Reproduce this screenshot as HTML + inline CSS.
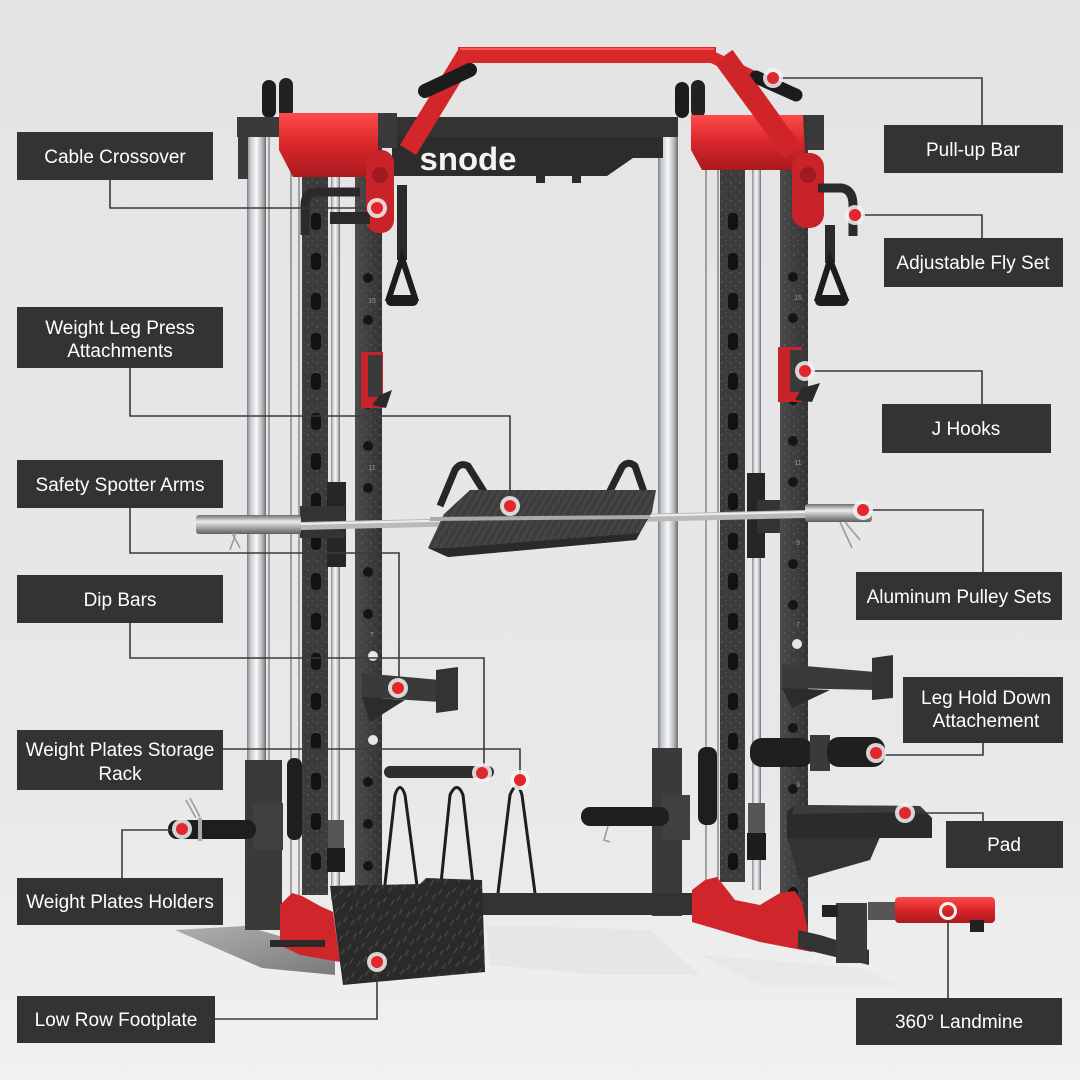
<!DOCTYPE html>
<html><head><meta charset="utf-8"><style>
html,body{margin:0;padding:0;background:#e7e7e7}
svg{display:block}
.lb{fill:#333333}
.lt{font-family:"Liberation Sans",Arial,sans-serif;font-size:19px;fill:#ffffff;text-anchor:middle}
.cn{fill:none;stroke:#3a3a3a;stroke-width:1.6}
.num{font-family:"Liberation Sans",sans-serif;font-size:7px;fill:#9a9a9a;text-anchor:middle}
</style></head><body>
<svg width="1080" height="1080" viewBox="0 0 1080 1080" xmlns="http://www.w3.org/2000/svg">
<defs>
<linearGradient id="bg" x1="0" y1="0" x2="0" y2="1">
<stop offset="0" stop-color="#e4e4e4"/><stop offset=".72" stop-color="#e8e8e8"/><stop offset="1" stop-color="#f1f1f1"/>
</linearGradient>
<linearGradient id="silver" x1="0" x2="1" y1="0" y2="0">
<stop offset="0" stop-color="#7e8185"/><stop offset=".18" stop-color="#c6c9cd"/><stop offset=".5" stop-color="#f5f7f9"/><stop offset=".8" stop-color="#b4b8bc"/><stop offset="1" stop-color="#6a6d70"/>
</linearGradient>
<linearGradient id="barg" x1="0" y1="0" x2="0" y2="1">
<stop offset="0" stop-color="#6e6e6e"/><stop offset=".35" stop-color="#ececec"/><stop offset="1" stop-color="#5e5e5e"/>
</linearGradient>
<linearGradient id="steel" x1="0" x2="1" y1="0" y2="0">
<stop offset="0" stop-color="#4a4a4a"/><stop offset="1" stop-color="#333"/>
</linearGradient>
<linearGradient id="redg" x1="0" y1="0" x2="0" y2="1">
<stop offset="0" stop-color="#ff4a4a"/><stop offset=".5" stop-color="#d8262a"/><stop offset="1" stop-color="#a81a1e"/>
</linearGradient>
<linearGradient id="footg" x1="0" y1="0" x2="1" y2="1">
<stop offset="0" stop-color="#b0b0b0"/><stop offset="1" stop-color="#7a7a7a"/>
</linearGradient>
<pattern id="speck" width="9" height="9" patternUnits="userSpaceOnUse">
<rect width="9" height="9" fill="none"/>
<circle cx="2" cy="3" r=".7" fill="#6a6a6a"/><circle cx="6" cy="7" r=".6" fill="#5c5c5c"/><circle cx="7" cy="1" r=".5" fill="#666"/>
</pattern>
<pattern id="diamond" width="14" height="14" patternUnits="userSpaceOnUse" patternTransform="rotate(-8)">
<rect width="14" height="14" fill="#2a2a2a"/>
<path d="M2 9 L6 4 M9 13 L13 8" stroke="#444" stroke-width="1.6"/>
</pattern>
<pattern id="carbon" width="6" height="6" patternUnits="userSpaceOnUse" patternTransform="rotate(30)">
<rect width="6" height="6" fill="#3c3c3c"/><rect width="3" height="6" fill="#454545"/>
</pattern>
</defs>
<rect width="1080" height="1080" fill="url(#bg)"/>

<!-- floor shadows -->
<polygon points="486,925 650,930 700,975 600,975 490,965" fill="#dfdfdf" opacity=".5"/>
<polygon points="700,955 860,968 900,985 760,985" fill="#e0e0e0" opacity=".45"/>
<polygon points="175,930 245,926 335,952 335,975 262,968" fill="url(#footg)"/>

<!-- back silver columns -->
<rect x="247" y="120" width="19" height="642" fill="url(#silver)"/>
<rect x="658" y="135" width="20" height="615" fill="url(#silver)"/>
<!-- cables -->
<g stroke="#5a5a5a" stroke-width="1">
<line x1="269" y1="118" x2="269" y2="930"/><line x1="291" y1="118" x2="291" y2="900"/><line x1="299" y1="150" x2="299" y2="900"/>
<line x1="706" y1="118" x2="706" y2="900"/><line x1="718" y1="118" x2="718" y2="900"/>
</g>
<!-- smith rods -->
<rect x="331" y="160" width="9" height="740" fill="url(#silver)"/>
<rect x="752" y="170" width="9" height="720" fill="url(#silver)"/>

<!-- top crossbar -->
<rect x="378" y="117" width="300" height="20" fill="#333"/>
<polygon points="392,137 663,137 663,158 633,158 607,176 392,176" fill="#2c2c2c"/>
<text x="468" y="170" font-family="Liberation Sans,sans-serif" font-weight="bold" font-size="32" fill="#f4f4f4" text-anchor="middle" textLength="97" lengthAdjust="spacingAndGlyphs">snode</text>
<rect x="536" y="175" width="9" height="8" fill="#2c2c2c"/><rect x="572" y="175" width="9" height="8" fill="#2c2c2c"/>

<!-- top pulleys -->
<rect x="262" y="80" width="14" height="38" rx="7" fill="#1c1c1c"/><rect x="279" y="78" width="14" height="40" rx="7" fill="#222"/>
<rect x="675" y="82" width="14" height="36" rx="7" fill="#1c1c1c"/><rect x="691" y="80" width="14" height="38" rx="7" fill="#222"/>

<!-- red pull-up bar -->
<g fill="none" stroke-linecap="butt">
<line x1="408" y1="150" x2="466" y2="55" stroke="#d2262a" stroke-width="19"/>
<line x1="458" y1="55" x2="716" y2="55" stroke="#d8282c" stroke-width="16"/>
<line x1="460" y1="49" x2="714" y2="49" stroke="#ff5555" stroke-width="2"/>
<line x1="724" y1="56" x2="793" y2="152" stroke="#cf2428" stroke-width="21"/>
<line x1="712" y1="57" x2="752" y2="76" stroke="#d8282c" stroke-width="12"/>
</g>
<line x1="425" y1="91" x2="470" y2="70" stroke="#1c1c1c" stroke-width="14" stroke-linecap="round"/>
<line x1="756" y1="77" x2="796" y2="95" stroke="#1c1c1c" stroke-width="13" stroke-linecap="round"/>

<!-- top brackets -->
<rect x="237" y="117" width="45" height="20" fill="#3a3a3a"/><rect x="238" y="117" width="10" height="62" fill="#3a3a3a"/>
<rect x="376" y="113" width="21" height="35" fill="#3a3a3a"/>
<rect x="800" y="115" width="24" height="35" fill="#3a3a3a"/>

<!-- slotted uprights -->
<rect x="302" y="160" width="26" height="735" fill="#3b3b3b"/>
<rect x="720" y="170" width="25" height="712" fill="#3b3b3b"/>
<rect x="302" y="160" width="26" height="735" fill="url(#speck)"/>
<rect x="720" y="170" width="25" height="712" fill="url(#speck)"/>
<g fill="#121212">
<rect x="311" y="213" width="10" height="17" rx="4"/><rect x="311" y="253" width="10" height="17" rx="4"/><rect x="311" y="293" width="10" height="17" rx="4"/><rect x="311" y="333" width="10" height="17" rx="4"/><rect x="311" y="373" width="10" height="17" rx="4"/><rect x="311" y="413" width="10" height="17" rx="4"/><rect x="311" y="453" width="10" height="17" rx="4"/><rect x="311" y="493" width="10" height="17" rx="4"/><rect x="311" y="533" width="10" height="17" rx="4"/><rect x="311" y="573" width="10" height="17" rx="4"/><rect x="311" y="613" width="10" height="17" rx="4"/><rect x="311" y="653" width="10" height="17" rx="4"/><rect x="311" y="693" width="10" height="17" rx="4"/><rect x="311" y="733" width="10" height="17" rx="4"/><rect x="311" y="773" width="10" height="17" rx="4"/><rect x="311" y="813" width="10" height="17" rx="4"/><rect x="311" y="853" width="10" height="17" rx="4"/>
<rect x="728" y="213" width="10" height="17" rx="4"/><rect x="728" y="253" width="10" height="17" rx="4"/><rect x="728" y="293" width="10" height="17" rx="4"/><rect x="728" y="333" width="10" height="17" rx="4"/><rect x="728" y="373" width="10" height="17" rx="4"/><rect x="728" y="413" width="10" height="17" rx="4"/><rect x="728" y="453" width="10" height="17" rx="4"/><rect x="728" y="493" width="10" height="17" rx="4"/><rect x="728" y="533" width="10" height="17" rx="4"/><rect x="728" y="573" width="10" height="17" rx="4"/><rect x="728" y="613" width="10" height="17" rx="4"/><rect x="728" y="653" width="10" height="17" rx="4"/><rect x="728" y="693" width="10" height="17" rx="4"/><rect x="728" y="733" width="10" height="17" rx="4"/><rect x="728" y="773" width="10" height="17" rx="4"/><rect x="728" y="813" width="10" height="17" rx="4"/><rect x="728" y="853" width="10" height="17" rx="4"/>
</g>

<!-- lower dark columns -->
<rect x="245" y="760" width="37" height="170" fill="#3a3a3a"/>
<rect x="253" y="803" width="30" height="47" fill="#404040"/>
<rect x="652" y="748" width="30" height="168" fill="#3a3a3a"/>
<rect x="662" y="795" width="28" height="45" fill="#404040"/>
<!-- lower pulleys & springs -->
<rect x="287" y="758" width="15" height="82" rx="7" fill="#1e1e1e"/>
<rect x="698" y="747" width="19" height="78" rx="8" fill="#1e1e1e"/>
<rect x="328" y="820" width="16" height="28" fill="#555"/><rect x="327" y="848" width="18" height="24" fill="#1c1c1c"/>
<rect x="748" y="803" width="17" height="30" fill="#555"/><rect x="747" y="833" width="19" height="27" fill="#1c1c1c"/>

<!-- front uprights -->
<rect x="355" y="140" width="27" height="765" fill="url(#steel)"/>
<rect x="780" y="117" width="28" height="815" fill="url(#steel)"/>
<rect x="355" y="140" width="27" height="765" fill="url(#speck)"/>
<rect x="780" y="117" width="28" height="815" fill="url(#speck)"/>
<g fill="#151515">
<circle cx="368" cy="278" r="5"/><circle cx="368" cy="320" r="5"/><circle cx="368" cy="404" r="5"/><circle cx="368" cy="446" r="5"/><circle cx="368" cy="488" r="5"/><circle cx="368" cy="572" r="5"/><circle cx="368" cy="614" r="5"/><circle cx="368" cy="698" r="5"/><circle cx="368" cy="782" r="5"/><circle cx="368" cy="824" r="5"/><circle cx="368" cy="866" r="5"/>
<circle cx="793" cy="277" r="5"/><circle cx="793" cy="318" r="5"/><circle cx="793" cy="400" r="5"/><circle cx="793" cy="441" r="5"/><circle cx="793" cy="482" r="5"/><circle cx="793" cy="564" r="5"/><circle cx="793" cy="605" r="5"/><circle cx="793" cy="728" r="5"/><circle cx="793" cy="789" r="5"/><circle cx="793" cy="892" r="5"/>
</g>
<g fill="#e6e6e6"><circle cx="373" cy="656" r="5"/><circle cx="373" cy="740" r="5"/><circle cx="797" cy="644" r="5"/></g>
<text class="num" x="372" y="303">15</text><text class="num" x="372" y="470">11</text><text class="num" x="372" y="637">7</text>
<text class="num" x="798" y="300">15</text><text class="num" x="798" y="465">11</text><text class="num" x="798" y="545">9</text><text class="num" x="798" y="627">7</text><text class="num" x="798" y="787">3</text>

<!-- red plates top -->
<polygon points="279,113 378,113 378,170 365,177 293,177 279,150" fill="url(#redg)"/>
<polygon points="691,115 803,115 806,170 702,170 691,150" fill="url(#redg)"/>
<line x1="724" y1="58" x2="793" y2="152" stroke="#cf2428" stroke-width="21"/>
<!-- red pulleys -->
<rect x="366" y="150" width="28" height="83" rx="13" fill="#c9232a"/><circle cx="380" cy="175" r="8" fill="#9e1a1e"/>
<rect x="792" y="153" width="32" height="75" rx="14" fill="#c9232a"/><circle cx="808" cy="175" r="8" fill="#9e1a1e"/>
<!-- cable crossover arm -->
<path d="M305 235 L305 205 Q305 192 318 192 L360 192" fill="none" stroke="#2a2a2a" stroke-width="9"/>
<rect x="330" y="212" width="40" height="12" fill="#2a2a2a"/>
<!-- fly set -->
<path d="M818 188 L842 188 Q853 190 853 205 L853 236" fill="none" stroke="#2a2a2a" stroke-width="9"/>
<!-- handles -->
<rect x="397" y="185" width="10" height="75" fill="#2a2a2a"/>
<path d="M402 258 L389 298 L415 298 Z" fill="none" stroke="#1c1c1c" stroke-width="6"/>
<rect x="386" y="295" width="32" height="11" rx="5" fill="#1c1c1c"/>
<rect x="825" y="225" width="10" height="38" fill="#2a2a2a"/>
<path d="M830 260 L818 298 L845 298 Z" fill="none" stroke="#1c1c1c" stroke-width="6"/>
<rect x="815" y="295" width="33" height="11" rx="5" fill="#1c1c1c"/>

<!-- J hooks -->
<rect x="361" y="352" width="22" height="56" fill="#c9232a"/><rect x="368" y="355" width="14" height="42" fill="#3a3a3a"/><polygon points="380,395 392,390 386,408 372,405" fill="#2a2a2a"/>
<rect x="778" y="347" width="24" height="55" fill="#c9232a"/><rect x="790" y="350" width="14" height="42" fill="#3a3a3a"/><polygon points="802,388 820,383 812,402 795,400" fill="#2a2a2a"/>

<!-- smith carriages -->
<rect x="327" y="482" width="19" height="85" fill="#262626"/>
<rect x="300" y="506" width="45" height="32" fill="#343434"/>
<rect x="747" y="473" width="18" height="85" fill="#262626"/>
<rect x="757" y="500" width="23" height="33" fill="#343434"/>

<!-- leg press handles -->
<path d="M440 506 L455 470 Q460 462 468 466 L488 498" fill="none" stroke="#262626" stroke-width="7"/>
<path d="M607 497 L622 467 Q628 460 635 466 L645 495" fill="none" stroke="#262626" stroke-width="7"/>
<!-- barbell -->
<line x1="300" y1="526" x2="805" y2="514" stroke="#b9b9b9" stroke-width="8"/>
<line x1="300" y1="524" x2="805" y2="512" stroke="#eeeeee" stroke-width="2"/>
<rect x="196" y="515" width="105" height="19" rx="3" fill="url(#barg)"/>
<rect x="805" y="504" width="67" height="18" rx="3" fill="url(#barg)"/>
<path d="M232 533 L240 548 M236 533 L230 550" stroke="#999" stroke-width="1.5"/>
<path d="M840 522 L852 548 M845 522 L860 540" stroke="#999" stroke-width="1.5"/>
<!-- leg press plate -->
<polygon points="470,490 656,490 652,512 636,540 448,557 428,548 444,514" fill="url(#carbon)"/>
<polygon points="428,548 448,557 636,540 640,533 450,548" fill="#2a2a2a"/>
<line x1="430" y1="519" x2="650" y2="517" stroke="#aaa" stroke-width="4"/>

<!-- dip bars left -->
<polygon points="362,673 440,680 440,702 362,697" fill="#3a3a3a"/>
<polygon points="436,670 458,667 458,710 436,713" fill="#333"/>
<polygon points="362,697 405,700 370,722" fill="#2c2c2c"/>
<!-- dip bars right -->
<polygon points="782,664 875,672 875,690 782,688" fill="#3a3a3a"/>
<polygon points="872,658 893,655 893,698 872,700" fill="#333"/>
<polygon points="782,688 830,690 792,708" fill="#2c2c2c"/>
<!-- leg hold down -->
<rect x="750" y="738" width="63" height="29" rx="12" fill="#1f1f1f"/>
<rect x="810" y="735" width="20" height="36" fill="#3a3a3a"/>
<rect x="827" y="737" width="58" height="30" rx="12" fill="#1f1f1f"/>
<!-- pad -->
<polygon points="787,837 880,837 870,860 800,880" fill="#333"/>
<polygon points="795,805 920,806 932,818 932,838 787,838 787,812" fill="#2b2b2b"/>
<polygon points="795,805 920,806 926,812 792,814" fill="#3c3c3c"/>
<!-- storage rack -->
<rect x="384" y="766" width="110" height="12" rx="6" fill="#2e2e2e"/>
<g fill="none" stroke="#1e1e1e" stroke-width="3">
<path d="M384 893 L395 795 Q400 780 405 795 L418 893"/>
<path d="M440 893 L450 795 Q457 780 463 795 L474 893"/>
<path d="M498 893 L510 795 Q517 778 522 795 L535 893"/>
</g>
<rect x="471" y="893" width="230" height="22" fill="#333"/>
<!-- weight plate holders -->
<rect x="168" y="820" width="88" height="19" rx="9" fill="#1e1e1e"/>
<rect x="198" y="818" width="4" height="23" fill="#aaa"/>
<path d="M186 800 L196 818 M190 798 L200 817" stroke="#999" stroke-width="1.5"/>
<rect x="581" y="807" width="88" height="19" rx="9" fill="#1e1e1e"/>
<path d="M608 826 L604 840 L610 842" fill="none" stroke="#999" stroke-width="1.5"/>

<!-- base left -->
<polygon points="280,905 292,893 302,896 320,906 333,912 340,962 300,955 280,945" fill="#d0262b"/>
<rect x="270" y="940" width="55" height="7" fill="#2a2a2a"/>
<!-- base right -->
<polygon points="692,890 705,880 717,877 735,900 760,905 780,893 795,891 802,902 812,952 760,942 692,922" fill="#d0262b"/>
<polygon points="798,930 820,935 869,950 869,965 798,948" fill="#333"/>
<rect x="836" y="903" width="31" height="60" fill="#3a3a3a"/>
<rect x="822" y="905" width="16" height="12" fill="#222"/>
<rect x="868" y="902" width="28" height="18" fill="#555"/>
<rect x="895" y="897" width="100" height="26" rx="4" fill="url(#redg)"/>
<rect x="970" y="920" width="14" height="12" fill="#222"/>
<!-- footplate -->
<polygon points="330,886 420,884 426,878 482,880 485,972 343,985" fill="url(#diamond)"/>

<!-- connectors -->
<polyline class="cn" points="110,180 110,208 377,208"/>
<polyline class="cn" points="130,368 130,416 510,416 510,506"/>
<polyline class="cn" points="130,508 130,553 399,553 399,688"/>
<polyline class="cn" points="130,623 130,658 484,658 484,773"/>
<polyline class="cn" points="223,749 520,749 520,780"/>
<polyline class="cn" points="122,878 122,830 182,830"/>
<polyline class="cn" points="215,1019 377,1019 377,962"/>
<polyline class="cn" points="773,78 982,78 982,125"/>
<polyline class="cn" points="855,215 982,215 982,238"/>
<polyline class="cn" points="805,371 982,371 982,404"/>
<polyline class="cn" points="863,510 983,510 983,572"/>
<polyline class="cn" points="983,743 983,755 876,755"/>
<polyline class="cn" points="905,813 983,813 983,821"/>
<polyline class="cn" points="948,921 948,998"/>

<!-- dots -->
<g>
<g fill="#f3f3f3" opacity=".85">
<circle cx="377" cy="208" r="10"/><circle cx="510" cy="506" r="10"/><circle cx="398" cy="688" r="10"/><circle cx="482" cy="773" r="10"/><circle cx="520" cy="780" r="10"/><circle cx="182" cy="829" r="10"/><circle cx="377" cy="962" r="10"/><circle cx="773" cy="78" r="10"/><circle cx="855" cy="215" r="10"/><circle cx="805" cy="371" r="10"/><circle cx="863" cy="510" r="10"/><circle cx="876" cy="753" r="10"/><circle cx="905" cy="813" r="10"/>
</g>
<g fill="#e3262b">
<circle cx="377" cy="208" r="6"/><circle cx="510" cy="506" r="6"/><circle cx="398" cy="688" r="6"/><circle cx="482" cy="773" r="6"/><circle cx="520" cy="780" r="6"/><circle cx="182" cy="829" r="6"/><circle cx="377" cy="962" r="6"/><circle cx="773" cy="78" r="6"/><circle cx="855" cy="215" r="6"/><circle cx="805" cy="371" r="6"/><circle cx="863" cy="510" r="6"/><circle cx="876" cy="753" r="6"/><circle cx="905" cy="813" r="6"/>
</g>
<circle cx="948" cy="911" r="7.5" fill="none" stroke="#f4f4f4" stroke-width="3"/>
</g>

<!-- labels left -->
<rect class="lb" x="17" y="132" width="196" height="48"/><text class="lt" x="115" y="163">Cable Crossover</text>
<rect class="lb" x="17" y="307" width="206" height="61"/><text class="lt" x="120" y="334">Weight Leg Press</text><text class="lt" x="120" y="357">Attachments</text>
<rect class="lb" x="17" y="460" width="206" height="48"/><text class="lt" x="120" y="491">Safety Spotter Arms</text>
<rect class="lb" x="17" y="575" width="206" height="48"/><text class="lt" x="120" y="606">Dip Bars</text>
<rect class="lb" x="17" y="730" width="206" height="60"/><text class="lt" x="120" y="756">Weight Plates Storage</text><text class="lt" x="120" y="780">Rack</text>
<rect class="lb" x="17" y="878" width="206" height="47"/><text class="lt" x="120" y="908">Weight Plates Holders</text>
<rect class="lb" x="17" y="996" width="198" height="47"/><text class="lt" x="116" y="1026">Low Row Footplate</text>
<!-- labels right -->
<rect class="lb" x="884" y="125" width="179" height="48"/><text class="lt" x="973" y="156">Pull-up Bar</text>
<rect class="lb" x="884" y="238" width="179" height="49"/><text class="lt" x="973" y="269">Adjustable Fly Set</text>
<rect class="lb" x="882" y="404" width="169" height="49"/><text class="lt" x="966" y="435">J Hooks</text>
<rect class="lb" x="856" y="572" width="206" height="48"/><text class="lt" x="959" y="603">Aluminum Pulley Sets</text>
<rect class="lb" x="903" y="677" width="160" height="66"/><text class="lt" x="986" y="704">Leg Hold Down</text><text class="lt" x="986" y="727">Attachement</text>
<rect class="lb" x="946" y="821" width="117" height="47"/><text class="lt" x="1004" y="851">Pad</text>
<rect class="lb" x="856" y="998" width="206" height="47"/><text class="lt" x="959" y="1028">360° Landmine</text>
</svg>
</body></html>
